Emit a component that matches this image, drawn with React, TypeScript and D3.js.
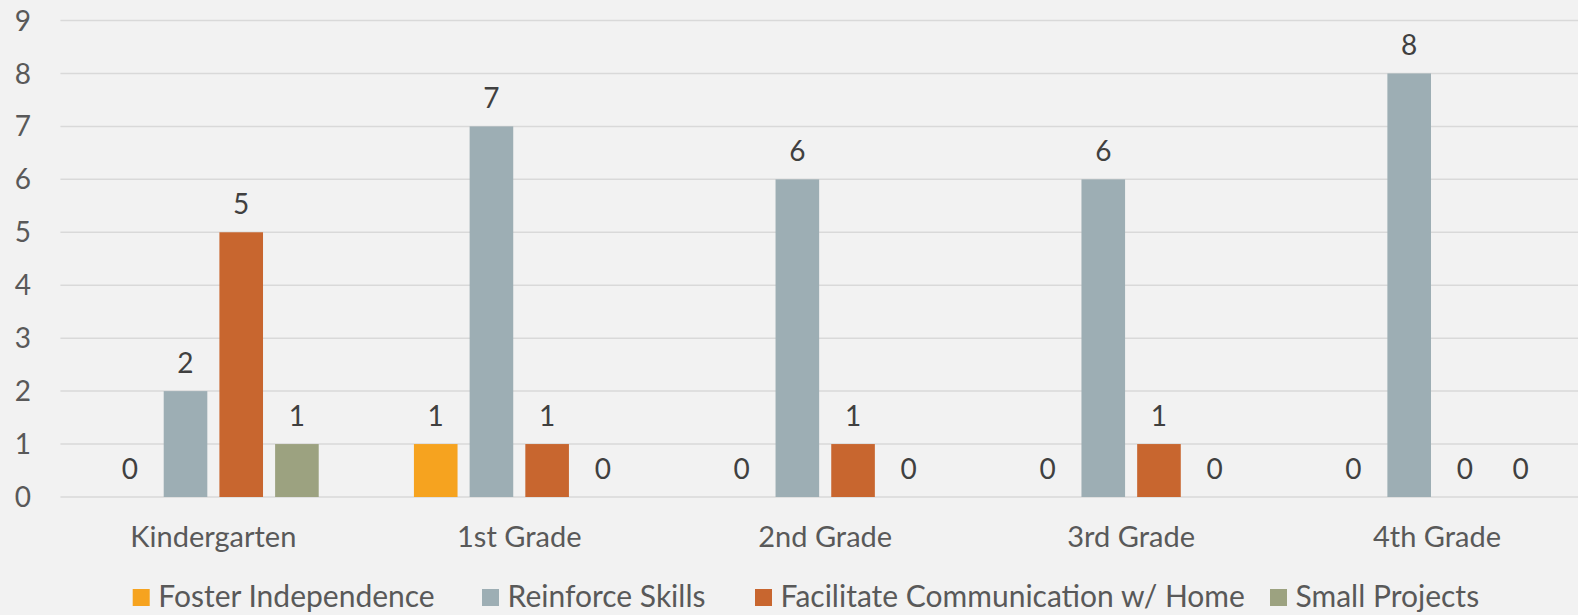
import * as d3 from 'd3';

const WIDTH = 1578;
const HEIGHT = 615;
// plot area runs a bit past the right edge, like the source picture
const PLOT = { left: 60.4, right: 1590, top: 20.5, bottom: 497 };

const categories = ['Kindergarten', '1st Grade', '2nd Grade', '3rd Grade', '4th Grade'];
const seriesNames = ['Foster Independence', 'Reinforce Skills', 'Facilitate Communication w/ Home', 'Small Projects'];
const seriesColors = ['#F6A31F', '#9DAEB4', '#C8662F', '#9CA280'];

const foster = [0, 1, 0, 0, 0];
const reinforce = [2, 7, 6, 6, 8];
const facilitate = [5, 1, 1, 1, 0];
const smallProjects = [1, 0, 0, 0, 0];
const seriesValues = [foster, reinforce, facilitate, smallProjects];

const yTicks = [0, 1, 2, 3, 4, 5, 6, 7, 8, 9];

// legend item x positions (square left edge)
const legendX = [132.7, 482, 755, 1270];

const FONT = 'Lato, "Open Sans", sans-serif';

export default function App() {
  const x0 = d3.scaleBand<string>().domain(categories).range([PLOT.left, PLOT.right]).padding(0);
  const groupPad = 47.6;
  const x1 = d3
    .scaleBand<string>()
    .domain(seriesNames)
    .range([groupPad, x0.bandwidth() - groupPad])
    .paddingInner(0.217)
    .paddingOuter(0);
  const y = d3.scaleLinear().domain([0, 9]).range([PLOT.bottom, PLOT.top]);

  return (
    <svg
      width={WIDTH}
      height={HEIGHT}
      style={{ position: 'fixed', left: 0, top: 0, background: '#F2F2F2' }}
    >
      <rect x={0} y={0} width={WIDTH} height={HEIGHT} fill="#F2F2F2" />

      {/* gridlines + y ticks */}
      {yTicks.map((t) => (
        <g key={t}>
          <line x1={PLOT.left} x2={PLOT.right} y1={y(t)} y2={y(t)} stroke="#D9D9D9" strokeWidth={1.5} />
          <text
            x={31}
            y={y(t)}
            dy="0.36em"
            textAnchor="end"
            fontFamily={FONT}
            fontSize={28}
            fill="#595959"
          >
            {t}
          </text>
        </g>
      ))}

      {/* bars */}
      {categories.map((c, ci) => (
        <g key={c} transform={`translate(${x0(c)},0)`}>
          {seriesNames.map((s, si) => {
            const v = seriesValues[si][ci];
            const bx = x1(s) as number;
            return (
              <g key={s}>
                {v > 0 && (
                  <rect
                    x={bx}
                    y={y(v)}
                    width={x1.bandwidth()}
                    height={y(0) - y(v)}
                    fill={seriesColors[si]}
                  />
                )}
                <text
                  x={bx + x1.bandwidth() / 2}
                  y={y(v) - 18}
                  textAnchor="middle"
                  fontFamily={FONT}
                  fontSize={28}
                  fill="#404040"
                >
                  {v}
                </text>
              </g>
            );
          })}
          <text
            x={x0.bandwidth() / 2}
            y={547}
            textAnchor="middle"
            fontFamily={FONT}
            fontSize={29}
            fill="#595959"
          >
            {c}
          </text>
        </g>
      ))}

      {/* legend */}
      {seriesNames.map((s, si) => (
        <g key={s} transform={`translate(${legendX[si]},0)`}>
          <rect x={0} y={589} width={17} height={17} fill={seriesColors[si]} />
          <text x={25.6} y={606.5} fontFamily={FONT} fontSize={30} fill="#595959">
            {s}
          </text>
        </g>
      ))}
    </svg>
  );
}
